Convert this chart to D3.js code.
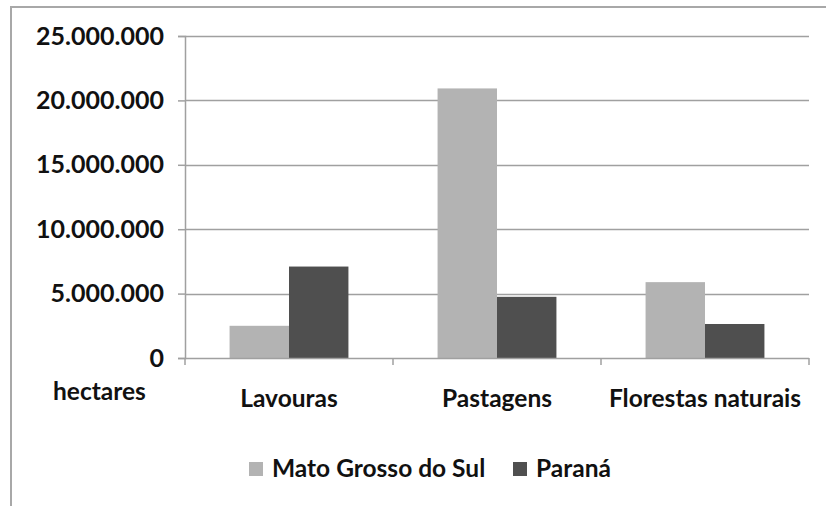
<!DOCTYPE html>
<html>
<head>
<meta charset="utf-8">
<script src="https://cdn.jsdelivr.net/npm/d3@7/dist/d3.min.js"></script>
<style>
  html, body { margin: 0; padding: 0; background: #fff; }
  svg { display: block; }
  text { font-family: Lato, "Open Sans", sans-serif; font-weight: 700; fill: #111; }
</style>
</head>
<body>
<svg id="chart" width="826" height="506"></svg>
<script>
const categories = ["Lavouras", "Pastagens", "Florestas naturais"];
const seriesNames = ["Mato Grosso do Sul", "Paraná"];
const msValues = [2500000, 20930000, 5890000];
const prValues = [7100000, 4750000, 2640000];
const yTickValues = [0, 5000000, 10000000, 15000000, 20000000, 25000000];
const unitLabel = "hectares";
const seriesColors = ["#b3b3b3", "#4f4f4f"];

const svg = d3.select("#chart");
const W = 826, H = 506;
const plot = { left: 185, right: 809, top: 36, bottom: 358 };
const FS = 24.5;

// outer frame (only top and left visible)
svg.append("rect")
  .attr("x", 11).attr("y", 7)
  .attr("width", W + 20).attr("height", H + 20)
  .attr("fill", "#fff").attr("stroke", "#a8a8a8").attr("stroke-width", 2);

const locale = d3.formatLocale({ decimal: ",", thousands: ".", grouping: [3], currency: ["", ""] });
const fmt = locale.format(",");

const y = d3.scaleLinear().domain([0, 25000000]).range([plot.bottom, plot.top]);
const x0 = d3.scaleBand().domain(categories).range([plot.left, plot.right]).paddingInner(0).paddingOuter(0);
const x1 = d3.scaleBand().domain(seriesNames).range([0, x0.bandwidth()]).paddingInner(0).paddingOuter(0.75);
const color = d3.scaleOrdinal().domain(seriesNames).range(seriesColors);

// gridlines
svg.append("g").selectAll("line").data(yTickValues.filter(d => d > 0)).join("line")
  .attr("x1", plot.left).attr("x2", plot.right)
  .attr("y1", d => Math.round(y(d)) + 0.5).attr("y2", d => Math.round(y(d)) + 0.5)
  .attr("stroke", "#a0a0a0").attr("stroke-width", 1.5);

// y axis
const yAxis = svg.append("g").attr("transform", `translate(${plot.left},0)`)
  .call(d3.axisLeft(y).tickValues(yTickValues).tickFormat(fmt).tickSize(7).tickPadding(14));
yAxis.select(".domain").attr("stroke", "#a0a0a0").attr("stroke-width", 1.5);
yAxis.selectAll(".tick line").attr("stroke", "#a0a0a0").attr("stroke-width", 1.5);
yAxis.selectAll(".tick text").attr("font-size", 25).attr("font-family", "Lato, sans-serif")
  .attr("font-weight", 700).attr("fill", "#111");

// bars
const data = categories.map((c, i) => ({ cat: c, vals: [msValues[i], prValues[i]] }));
const groups = svg.append("g").selectAll("g").data(data).join("g")
  .attr("transform", d => `translate(${x0(d.cat)},0)`);
groups.selectAll("rect").data(d => d.vals.map((v, j) => ({ s: seriesNames[j], v }))).join("rect")
  .attr("x", d => x1(d.s)).attr("width", x1.bandwidth())
  .attr("y", d => y(d.v)).attr("height", d => y(0) - y(d.v))
  .attr("fill", d => color(d.s));

// x axis
const xAxis = svg.append("g").attr("transform", `translate(0,${plot.bottom})`)
  .call(d3.axisBottom(x0).tickSize(0).tickPadding(32));
xAxis.select(".domain").remove();
svg.append("line").attr("x1", plot.left).attr("x2", plot.right)
  .attr("y1", plot.bottom + 0.5).attr("y2", plot.bottom + 0.5)
  .attr("stroke", "#a0a0a0").attr("stroke-width", 1.5);
const boundaries = [plot.left, ...categories.map(c => x0(c) + x0.bandwidth())];
svg.append("g").selectAll("line").data(boundaries).join("line")
  .attr("x1", d => d).attr("x2", d => d)
  .attr("y1", plot.bottom).attr("y2", plot.bottom + 7)
  .attr("stroke", "#a0a0a0").attr("stroke-width", 1.5);
xAxis.selectAll(".tick text").attr("font-size", FS).attr("font-family", "Lato, sans-serif")
  .attr("font-weight", 700).attr("fill", "#111");

// unit label
svg.append("text").attr("x", 53).attr("y", 400).attr("font-size", FS).text(unitLabel);

// legend
const legend = svg.append("g").attr("transform", "translate(249,462)");
const legendOffsets = [0, 264];
seriesNames.forEach((s, i) => {
  const g = legend.append("g").attr("transform", `translate(${legendOffsets[i]},0)`);
  g.append("rect").attr("width", 14).attr("height", 14).attr("fill", color(s));
  g.append("text").attr("x", 23).attr("y", 15).attr("font-size", FS).text(s);
});
</script>
</body>
</html>
